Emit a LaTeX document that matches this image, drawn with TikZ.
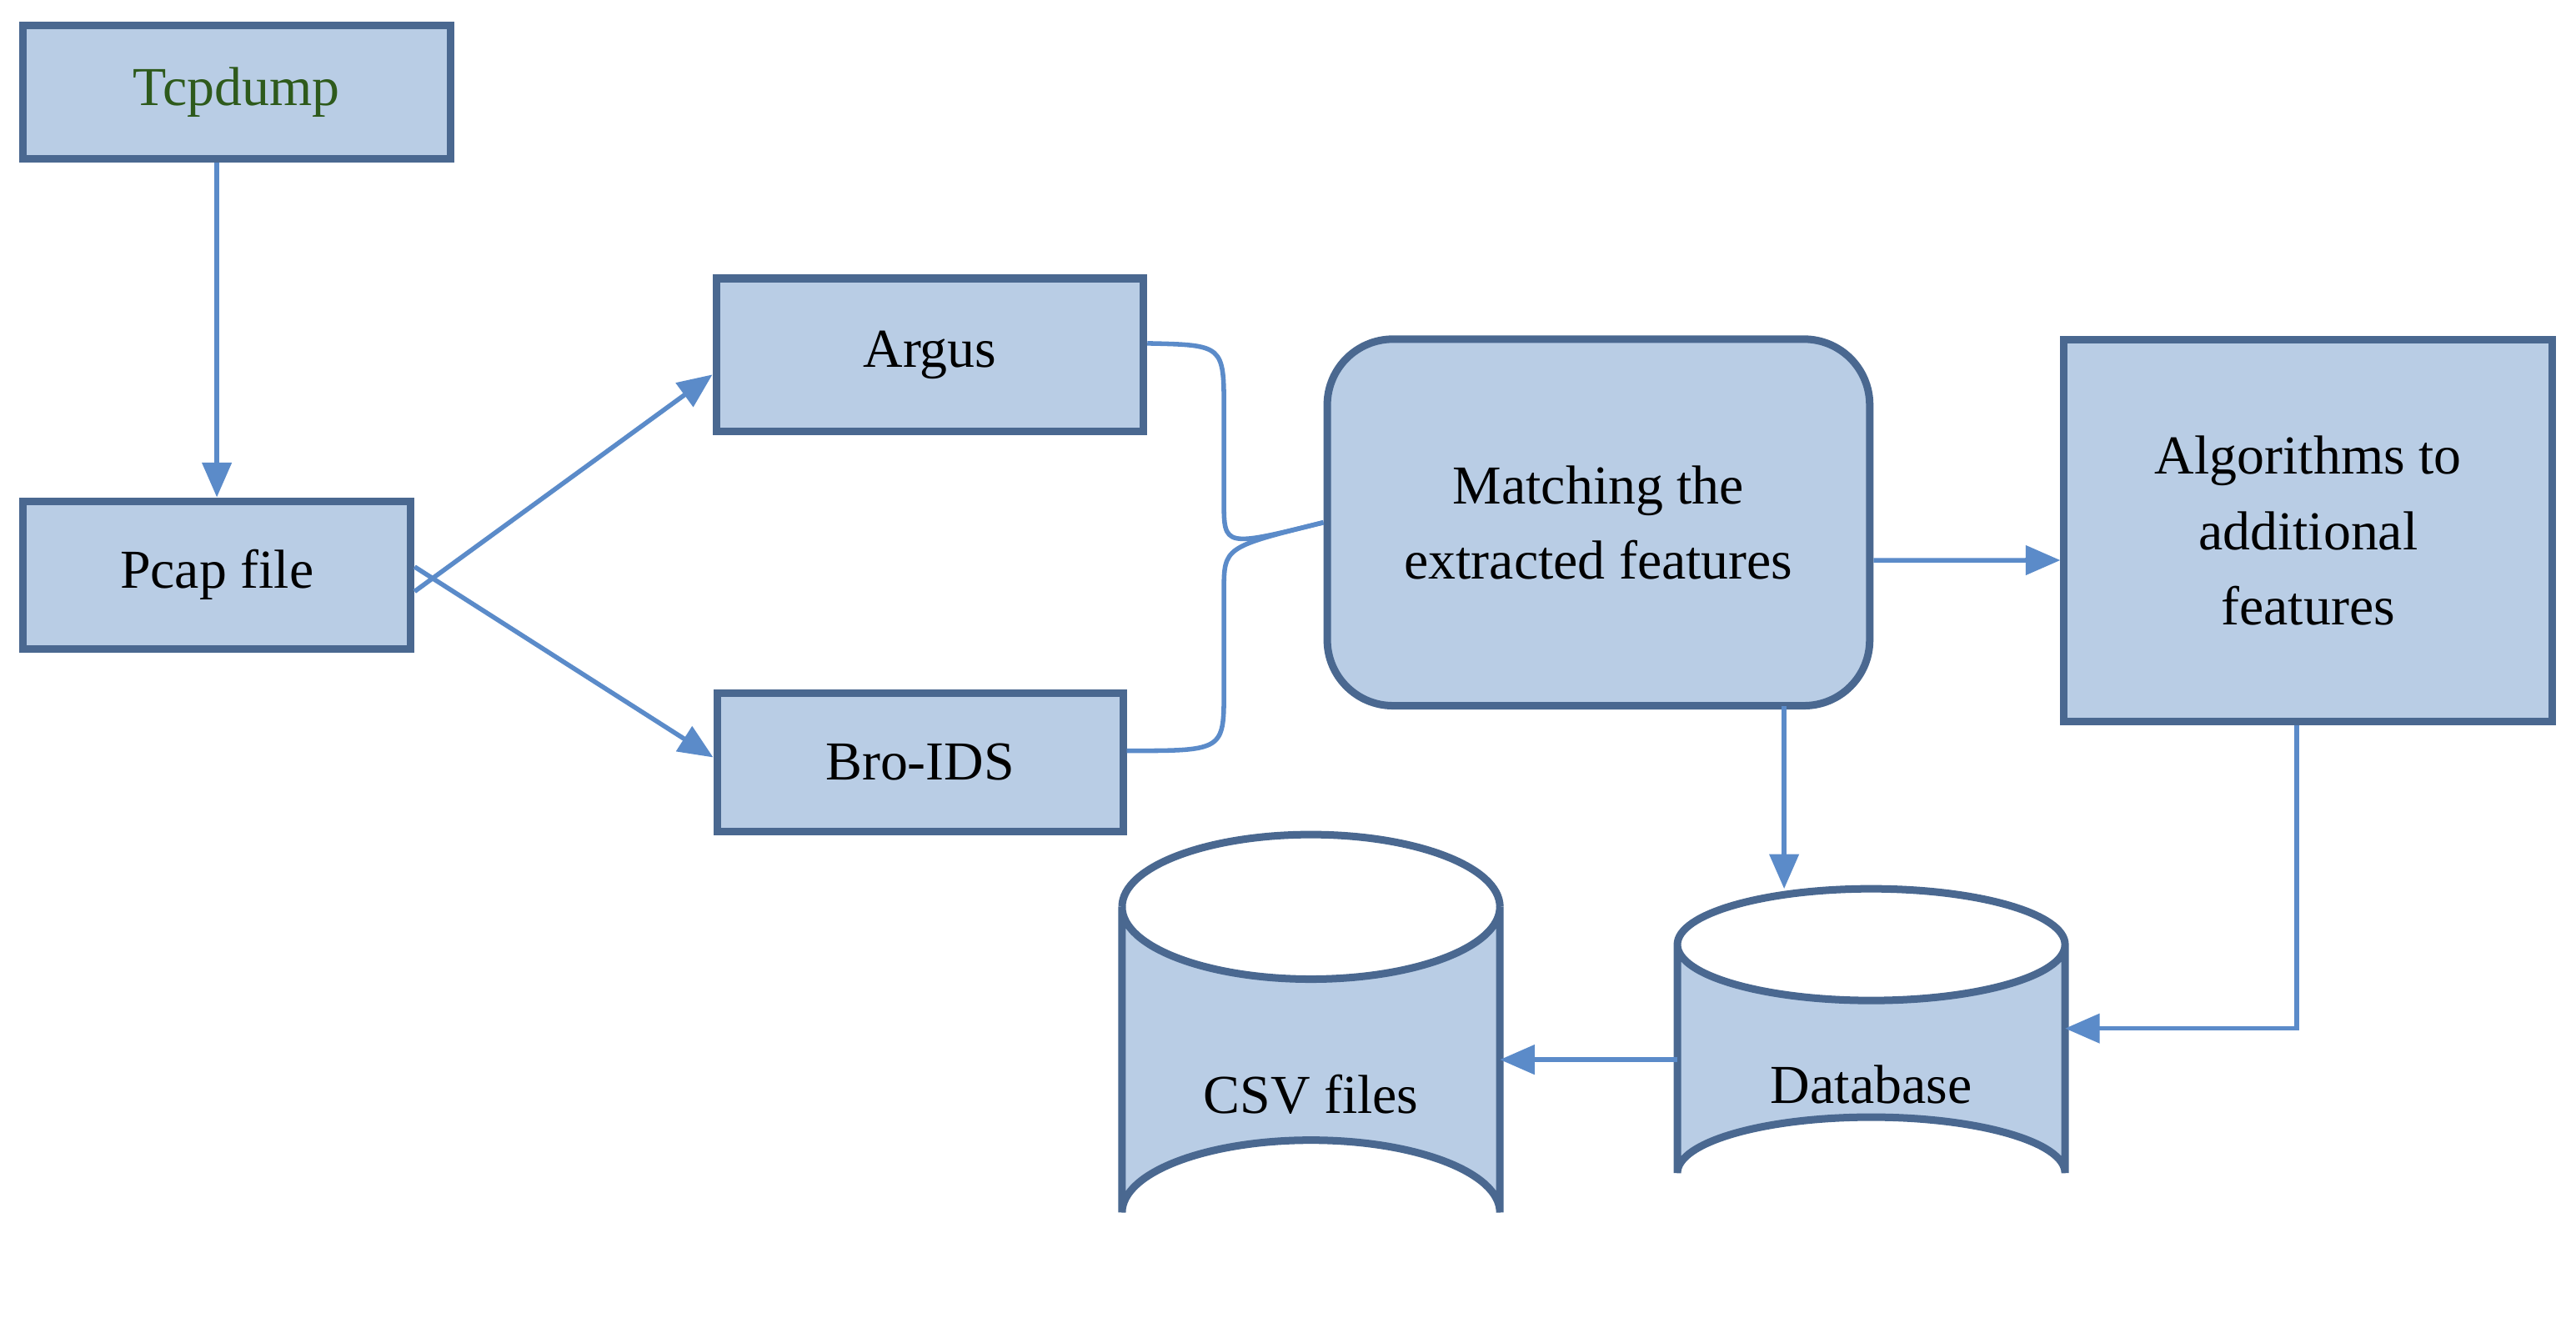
\documentclass[tikz,border=0pt]{standalone}
\usepackage{fontspec}
\setmainfont{Liberation Serif}
\usetikzlibrary{arrows.meta}
\definecolor{boxfill}{HTML}{B9CDE5}
\definecolor{boxline}{HTML}{4A6890}
\definecolor{arr}{HTML}{5B8BC9}
\definecolor{tgreen}{HTML}{2E5A1C}
\begin{document}
\begin{tikzpicture}[x=0.01cm,y=-0.01cm,
  box/.style={draw=boxline,fill=boxfill,line width=1.3pt,inner sep=0pt,font=\fontsize{9.5}{13}\selectfont,align=center},
  cyl/.style={draw=boxline,fill=boxfill,line width=1.3pt},
  con/.style={draw=arr,line width=0.8pt},
  ar/.style={con,-{Triangle[length=6pt,width=5pt]}}]
\useasboundingbox (0,0) rectangle (1568,802);
\node[box,minimum width=2.6cm,minimum height=0.81cm,text=tgreen] (tcp) at (144,56) {Tcpdump};
\node[box,minimum width=2.36cm,minimum height=0.9cm] (pcap) at (132,350) {Pcap file};
\node[box,minimum width=2.6cm,minimum height=0.93cm] (argus) at (566,216) {Argus};
\node[box,minimum width=2.47cm,minimum height=0.84cm] (bro) at (560,464) {Bro-IDS};
\node[box,rounded corners=0.4cm,minimum width=3.3cm,minimum height=2.23cm] (match) at (973,318) {Matching the\\extracted features};
\node[box,minimum width=2.97cm,minimum height=2.32cm] (alg) at (1405,323) {Algorithms to\\additional\\features};
% CSV cylinder
\path[cyl] (683,552) -- (683,738) arc[start angle=180,end angle=360,x radius=115,y radius=44] -- (913,552) arc[start angle=0,end angle=180,x radius=115,y radius=44] -- cycle;
\draw[cyl,fill=none] (683,552) arc[start angle=180,end angle=360,x radius=115,y radius=44];
\node[font=\fontsize{9.5}{13}\selectfont,minimum width=2.3cm,minimum height=1.2cm] (csv) at (798,666) {CSV files};
% Database cylinder
\path[cyl] (1021,575) -- (1021,714) arc[start angle=180,end angle=360,x radius=118,y radius=34] -- (1257,575) arc[start angle=0,end angle=180,x radius=118,y radius=34] -- cycle;
\draw[cyl,fill=none] (1021,575) arc[start angle=180,end angle=360,x radius=118,y radius=34];
\node[font=\fontsize{9.5}{13}\selectfont,minimum width=2.36cm,minimum height=1.0cm] (db) at (1139,660) {Database};
% connectors
\draw[ar] (tcp.south -| pcap.north) ++(0,0) coordinate (t1) (tcp.south -| pcap) -- (pcap.north);
\draw[ar] ([yshift=-0.1cm]pcap.east) -- ([yshift=-0.12cm]argus.west);
\draw[ar] ([yshift=0.05cm]pcap.east) -- ([yshift=0.03cm]bro.west);
\coordinate (mj) at (match.west);
\draw[con] ([yshift=0.07cm]argus.east) .. controls (745,210) .. (745,250) -- (745,305) .. controls (745,333) .. (mj);
\draw[con] ([yshift=0.07cm]bro.east) .. controls (745,457) .. (745,420) -- (745,360) .. controls (745,333) .. (mj);
\draw[ar] ([yshift=-0.23cm]match.east) -- (alg.west |- 0,341);
\coordinate (dbtop) at (1086,541);
\draw[ar] (1086,430) -- (dbtop);
\coordinate (dbr) at (1257,626);
\draw[ar] (alg.south -| 1398,0) |- (dbr);
\coordinate (csvr) at (913,645);
\draw[ar] (1021,645) -- (csvr);
\end{tikzpicture}
\end{document}
